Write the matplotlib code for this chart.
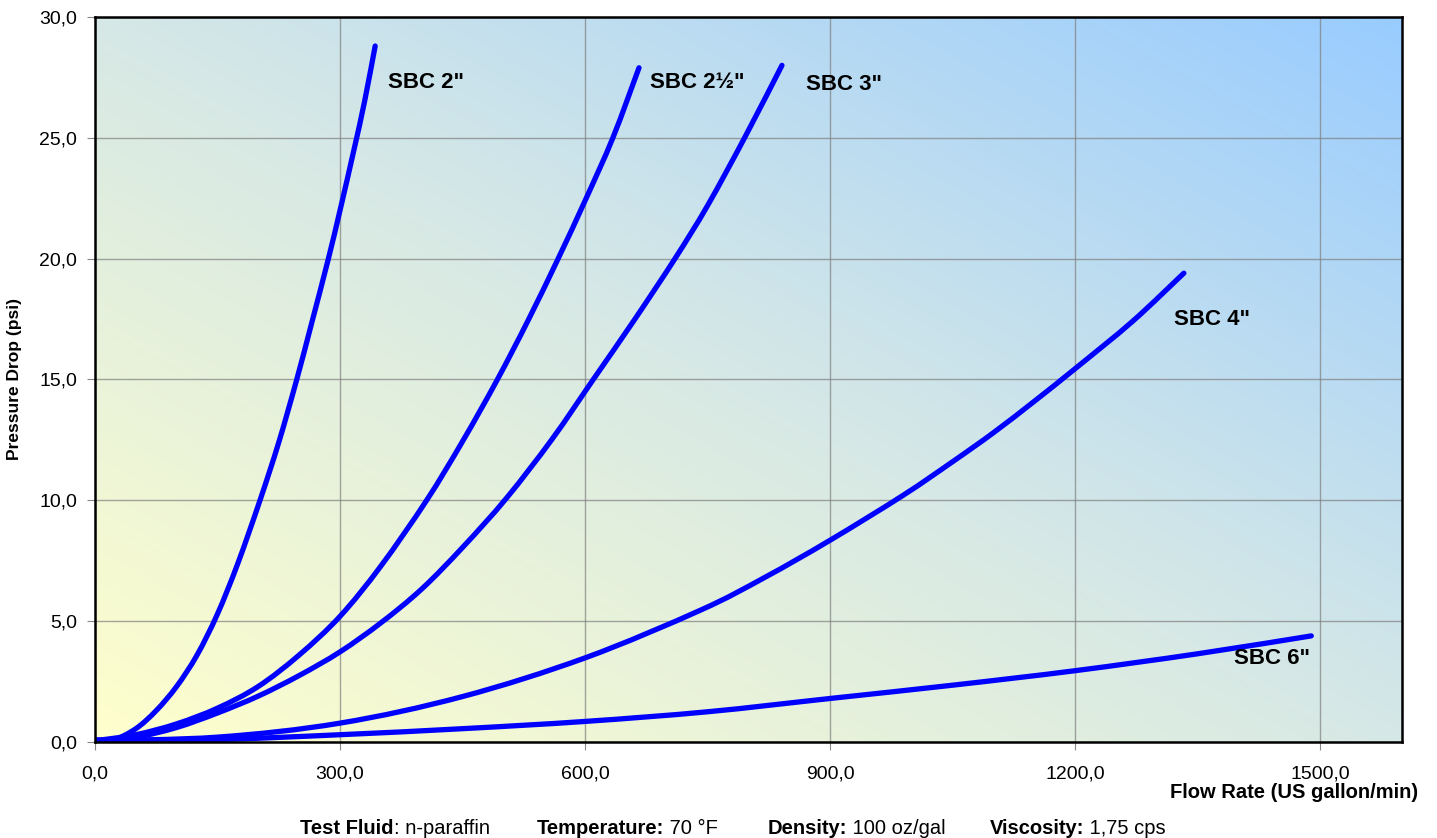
import numpy as np
import matplotlib
matplotlib.use("Agg")
import matplotlib.pyplot as plt
from matplotlib.colors import LinearSegmentedColormap
from matplotlib.ticker import FuncFormatter, MultipleLocator
from matplotlib.path import Path
from matplotlib.patches import PathPatch

plt.rcParams['font.family'] = ['Liberation Sans', 'DejaVu Sans']

# flow rate (US gallon/min) vs pressure drop (psi)
sbc2_x = [0, 22, 50, 75, 100, 125, 150, 175, 202, 225, 247, 265, 285, 300, 317, 330, 343]
sbc2_y = [0.1, 0.08, 0.55, 1.3, 2.3, 3.6, 5.3, 7.4, 10.0, 12.4, 15.0, 17.3, 19.9, 22.0, 24.5, 26.5, 28.8]

sbc25_x = [0, 50, 100, 150, 200, 250, 300, 350, 406, 450, 492, 530, 567, 600, 634, 666]
sbc25_y = [0.05, 0.3, 0.75, 1.4, 2.3, 3.6, 5.2, 7.28, 10.0, 12.44, 14.96, 17.43, 20.0, 22.4, 25.0, 27.9]

sbc3_x = [0, 50, 100, 150, 200, 250, 300, 350, 400, 450, 504, 560, 610, 660, 710, 750, 796, 841]
sbc3_y = [0.05, 0.2, 0.6, 1.2, 1.9, 2.75, 3.73, 4.93, 6.33, 8.05, 10.1, 12.55, 15.0, 17.45, 20.0, 22.2, 25.05, 28.0]

sbc4_x = [0, 150, 300, 450, 600, 741, 820, 900, 989, 1050, 1100, 1150, 1200, 1270, 1333]
sbc4_y = [0.05, 0.2, 0.78, 1.88, 3.48, 5.45, 6.81, 8.35, 10.2, 11.6, 12.8, 14.1, 15.45, 17.4, 19.4]

sbc6_x = [0, 150, 300, 450, 600, 750, 900, 1050, 1200, 1350, 1489]
sbc6_y = [0.05, 0.1, 0.3, 0.55, 0.85, 1.25, 1.8, 2.35, 2.95, 3.65, 4.39]

series = [(sbc2_x, sbc2_y), (sbc25_x, sbc25_y), (sbc3_x, sbc3_y), (sbc4_x, sbc4_y), (sbc6_x, sbc6_y)]

# curve labels and where they sit
labels = ['SBC 2"', 'SBC 2\u00bd"', 'SBC 3"', 'SBC 4"', 'SBC 6"']
label_x = [359, 679, 871, 1321, 1395]
label_y = [27.3, 27.3, 27.2, 17.5, 3.44]


def smooth_path(x, y):
    # Excel-like smoothed line: cubic bezier through the points (catmull-rom handles)
    p = np.column_stack([x, y]).astype(float)
    verts = [p[0]]
    codes = [Path.MOVETO]
    n = len(p)
    for i in range(n - 1):
        p0 = p[max(i - 1, 0)]
        p1, p2 = p[i], p[i + 1]
        p3 = p[min(i + 2, n - 1)]
        verts += [p1 + (p2 - p0) / 6, p2 - (p3 - p1) / 6, p2]
        codes += [Path.CURVE4] * 3
    return Path(verts, codes)


fig = plt.figure(figsize=(14.37, 8.38), dpi=100)
ax = fig.add_axes([0.0661, 0.1146, 0.9095, 0.8651])

# diagonal gradient background: light yellow bottom-left -> light blue top-right
cmap = LinearSegmentedColormap.from_list('bg', ['#FFFFCC', '#D6E8E6', '#99CCFF'])
u, v = np.meshgrid(np.linspace(0, 1, 400), np.linspace(0, 1, 300))
ax.imshow((u + v) / 2, cmap=cmap, extent=[0, 1, 0, 1], origin='lower',
          transform=ax.transAxes, aspect='auto', zorder=0, interpolation='bilinear')

for x, y in series:
    ax.add_patch(PathPatch(smooth_path(x, y), fill=False, edgecolor='#0000FF', lw=3.8,
                           capstyle='round', zorder=3))

for t, lx, ly in zip(labels, label_x, label_y):
    ax.text(lx, ly, t, fontsize=16, fontweight='bold', ha='left', va='center', zorder=4)

ax.set_xlim(0, 1600)
ax.set_ylim(0, 30)
ax.xaxis.set_major_locator(MultipleLocator(300))
ax.yaxis.set_major_locator(MultipleLocator(5))
fmt = FuncFormatter(lambda v, p: f"{v:.1f}".replace('.', ','))
ax.xaxis.set_major_formatter(fmt)
ax.yaxis.set_major_formatter(fmt)
ax.tick_params(axis='both', labelsize=14, length=6, color='#888888')
ax.tick_params(axis='x', pad=11)
ax.tick_params(axis='y', pad=7)
ax.grid(True, color='#7f7f7f', lw=1, alpha=0.7, zorder=1)
ax.set_axisbelow(False)
for s in ax.spines.values():
    s.set_linewidth(1.8)
    s.set_zorder(5)

ax.set_ylabel('Pressure Drop (psi)', fontsize=12.5, fontweight='bold', labelpad=12)
fig.text(1418 / 1437, 1 - 792 / 838, 'Flow Rate (US gallon/min)', fontsize=14.5,
         fontweight='bold', ha='right', va='center')

# footer with test conditions
footer = [('Test Fluid', ': n-paraffin', 300), ('Temperature:', ' 70 \u00b0F', 537),
          ('Density:', ' 100 oz/gal', 768), ('Viscosity:', ' 1,75 cps', 990)]
for b, n, px in footer:
    tb = fig.text(px / 1437, 1 - 828 / 838, b, fontsize=14.5, fontweight='bold', va='center')
    ax.annotate(n, xy=(1, 0.5), xycoords=tb, fontsize=14.5, va='center', ha='left',
                annotation_clip=False)

fig.savefig('out.png', dpi=100)
